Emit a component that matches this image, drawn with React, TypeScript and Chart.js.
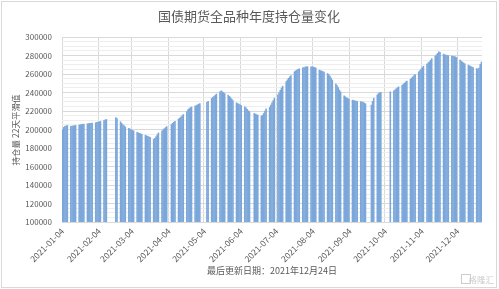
import React, { useEffect, useRef } from 'react';
import { Chart, registerables } from 'chart.js';

Chart.register(...registerables);

const TITLE = '国债期货全品种年度持仓量变化';
const Y_TITLE = '持仓量 22天平滑值';
const X_TITLE = '最后更新日期：2021年12月24日';
const WATERMARK = '格隆汇';

// calendar range of the category axis (one category per calendar day)
const START_DATE = '2021-01-04';
const DAY_COUNT = 355; // through 2021-12-24

const Y_MIN = 100000;
const Y_MAX = 300000;
const Y_MAJOR = 20000;
const Y_MINOR = 5000;

// Open interest (22-day smoothed), one row per week, Monday–Friday; null = exchange holiday
const openInterest: (number | null)[] = [
  200000, 202500, 203500, 204000, 204500, // 01-04
  203500, 203800, 204000, 204300, 204600, // 01-11
  205000, 205300, 205600, 205800, 206000, // 01-18
  206300, 206500, 206700, 206900, 207100, // 01-25
  207500, 207800, 208200, 208500, 208900, // 02-01
  209800, 210500, 211000, null, null, // 02-08
  null, null, null, 213000, 212000, // 02-15
  208500, 206700, 205200, 204000, 203000, // 02-22
  201300, 200500, 199800, 199200, 198700, // 03-01
  197000, 196500, 196000, 195500, 195000, // 03-08
  194000, 193300, 192700, 192200, 191700, // 03-15
  189400, 190500, 192500, 194500, 196500, // 03-22
  198500, 200000, 201000, 202200, 203300, // 03-29
  null, 205500, 206800, 208000, 209000, // 04-05
  211500, 212500, 213500, 215000, 216300, // 04-12
  219500, 221800, 222800, 223800, 224500, // 04-19
  225400, 226000, 226800, 227500, 228200, // 04-26
  null, null, null, 229500, 230500, // 05-03
  233700, 234800, 236000, 237200, 238500, // 05-10
  241000, 242000, 241000, 240000, 239000, // 05-17
  237300, 236000, 234500, 233000, 231500, // 05-24
  229000, 228200, 227500, 226800, 226000, // 05-31
  224700, 223500, 222000, 220500, 219300, // 06-07
  null, 217500, 216800, 216200, 215600, // 06-14
  214600, 215500, 217500, 220000, 222500, // 06-21
  224000, 226500, 229000, 231500, 234000, // 06-28
  237500, 240000, 242500, 245000, 247000, // 07-05
  252000, 253800, 255500, 257100, 258500, // 07-12
  262500, 263600, 264500, 265200, 265800, // 07-19
  266800, 267200, 267500, 267900, 268100, // 07-26
  268000, 267900, 267600, 267200, 266700, // 08-02
  264300, 263800, 263300, 262800, 262300, // 08-09
  260700, 259500, 257800, 255800, 253500, // 08-16
  249500, 247500, 245500, 242700, 240800, // 08-23
  236500, 235500, 234500, 233700, 233000, // 08-30
  231900, 231500, 231200, 230900, 230600, // 09-06
  230300, 230100, 229500, 228800, 228000, // 09-13
  null, null, 226500, 230500, 234000, // 09-20
  237500, 239000, 239800, 240200, null, // 09-27
  null, null, null, null, 240900, // 10-04
  242000, 243000, 244200, 245300, 246300, // 10-11
  248000, 249200, 250300, 251500, 252500, // 10-18
  254500, 255800, 257000, 258300, 259500, // 10-25
  262500, 263800, 265500, 267000, 268500, // 11-01
  271000, 272200, 273300, 275000, 276800, // 11-08
  279500, 281000, 282500, 284100, 283500, // 11-15
  281800, 281000, 280500, 280200, 280000, // 11-22
  279500, 279200, 279000, 278700, 278000, // 11-29
  275100, 274000, 273000, 272000, 271200, // 12-06
  269700, 269000, 268300, 267600, 267000, // 12-13
  266000, 265500, 266500, 270500, 273000, // 12-20
];

const FONT = '"Noto Sans CJK SC", "Noto Sans", sans-serif';
const TEXT_COLOR = '#595959';
const BAR_COLOR = '#7ba7da';
const GRID_MAJOR = '#d9d9d9';
const GRID_MINOR = '#eeeeee';

function buildDays(): string[] {
  const [y, m, d] = START_DATE.split('-').map(Number);
  const t0 = Date.UTC(y, m - 1, d);
  const out: string[] = [];
  for (let i = 0; i < DAY_COUNT; i++) {
    const dt = new Date(t0 + i * 86400000);
    const mm = String(dt.getUTCMonth() + 1).padStart(2, '0');
    const dd = String(dt.getUTCDate()).padStart(2, '0');
    out.push(`${dt.getUTCFullYear()}-${mm}-${dd}`);
  }
  return out;
}

function buildSeries(days: string[]): (number | null)[] {
  let k = 0;
  return days.map((_, i) => {
    const weekday = i % 7 < 5; // START_DATE is a Monday
    if (!weekday) return null;
    const v = openInterest[k];
    k++;
    return v === undefined ? null : v;
  });
}

const decorPlugin = {
  id: 'decor',
  beforeDraw(chart: any) {
    const { ctx, width, height } = chart;
    ctx.save();
    ctx.fillStyle = '#ffffff';
    ctx.fillRect(0, 0, width, height);
    ctx.restore();
  },
  afterDraw(chart: any) {
    const { ctx, chartArea } = chart;
    ctx.save();
    ctx.fillStyle = TEXT_COLOR;
    ctx.textAlign = 'center';
    ctx.textBaseline = 'middle';
    ctx.font = `13px ${FONT}`;
    ctx.fillText(TITLE, 249, 16);
    ctx.font = `9px ${FONT}`;
    ctx.fillText(X_TITLE, (chartArea.left + chartArea.right) / 2, 271);
    ctx.save();
    ctx.translate(16, 130);
    ctx.rotate(-Math.PI / 2);
    ctx.font = `8.5px ${FONT}`;
    ctx.fillText(Y_TITLE, 0, 0);
    ctx.restore();
    // watermark
    ctx.fillStyle = '#cccccc';
    ctx.strokeStyle = '#cccccc';
    ctx.lineWidth = 1;
    ctx.strokeRect(461.5, 274.5, 9, 9);
    ctx.font = `8.5px ${FONT}`;
    ctx.textAlign = 'right';
    ctx.fillText(WATERMARK, 494, 279.5);
    // chart border
    ctx.strokeStyle = '#d9d9d9';
    ctx.strokeRect(1.5, 1.5, 495, 286);
    ctx.restore();
  },
};

export default function App() {
  const ref = useRef<HTMLCanvasElement | null>(null);

  useEffect(() => {
    document.body.style.margin = '0';
    const canvas = ref.current;
    if (!canvas) return;
    const days = buildDays();
    const series = buildSeries(days);
    const chart = new Chart(canvas, {
      type: 'bar',
      data: {
        labels: days,
        datasets: [
          {
            data: series,
            backgroundColor: BAR_COLOR,
            borderWidth: 0,
            barPercentage: 1,
            categoryPercentage: 1,
            inflateAmount: 0.2,
          },
        ],
      },
      options: {
        animation: false,
        responsive: false,
        devicePixelRatio: 1,
        events: [],
        layout: { padding: { top: 37, right: 17, bottom: 0, left: 0 } },
        plugins: {
          legend: { display: false },
          tooltip: { enabled: false },
          title: { display: false },
        },
        scales: {
          x: {
            type: 'category',
            offset: true,
            border: { display: false },
            grid: {
              offset: true,
              drawTicks: false,
              color: (c: any) => {
                const lab = days[c.index];
                return lab && lab.endsWith('-04') ? GRID_MAJOR : 'rgba(0,0,0,0)';
              },
            },
            ticks: {
              autoSkip: false,
              minRotation: 45,
              maxRotation: 45,
              padding: 4,
              color: TEXT_COLOR,
              font: { family: FONT, size: 8.5 },
              callback: (_v: any, i: number) => (days[i].endsWith('-04') ? days[i] : ''),
            },
            afterFit: (s: any) => {
              s.height = 67;
            },
          },
          y: {
            min: Y_MIN,
            max: Y_MAX,
            border: { display: false },
            grid: {
              drawTicks: false,
              color: (c: any) =>
                c.tick && c.tick.value % Y_MAJOR === 0 ? GRID_MAJOR : GRID_MINOR,
            },
            ticks: {
              stepSize: Y_MINOR,
              autoSkip: false,
              padding: 10,
              color: TEXT_COLOR,
              font: { family: FONT, size: 8 },
              callback: (v: any) => (Number(v) % Y_MAJOR === 0 ? String(v) : ''),
            },
            afterFit: (s: any) => {
              s.width = 62;
            },
          },
        },
      },
      plugins: [decorPlugin],
    });
    return () => chart.destroy();
  }, []);

  return (
    <div style={{ position: 'absolute', left: 0, top: 0, width: 499, height: 289 }}>
      <canvas ref={ref} width={499} height={289} style={{ width: 499, height: 289, display: 'block' }} />
    </div>
  );
}
